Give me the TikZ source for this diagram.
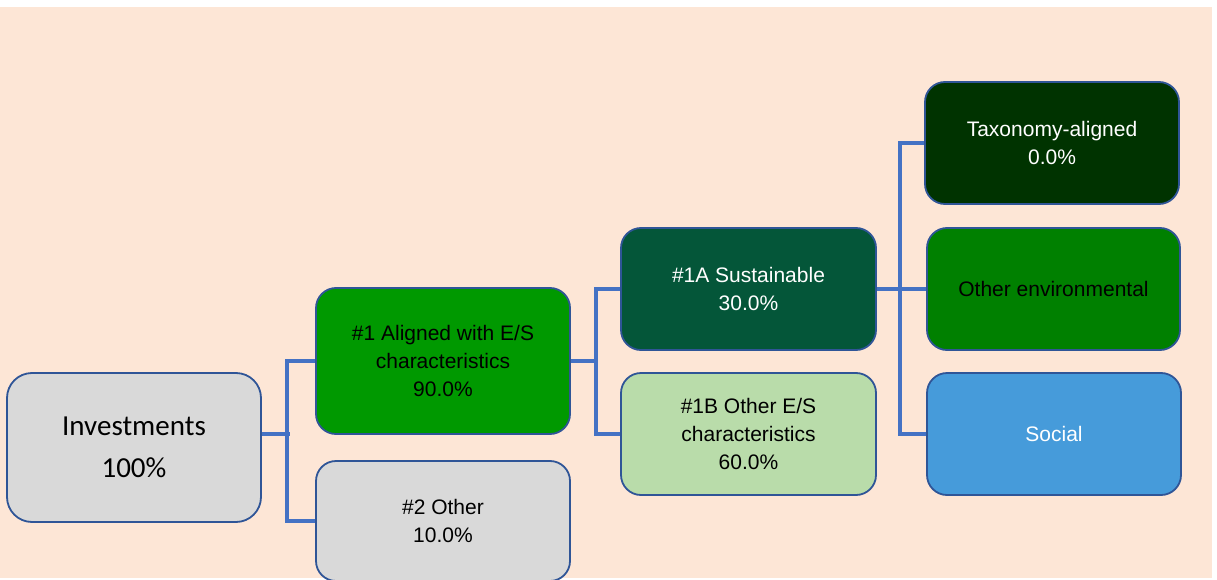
\documentclass[tikz,border=0pt]{standalone}
\usepackage{fontspec}
\setmainfont{Liberation Sans}
\newfontfamily\calibri{Carlito}
\usetikzlibrary{backgrounds}
\definecolor{peach}{HTML}{FDE6D6}
\definecolor{grayfill}{HTML}{D9D9D9}
\definecolor{greenA}{HTML}{009900}
\definecolor{greenS}{HTML}{045639}
\definecolor{greenL}{HTML}{B9DCAA}
\definecolor{greenT}{HTML}{003300}
\definecolor{greenE}{HTML}{008000}
\definecolor{socblue}{HTML}{469BDA}
\definecolor{bord}{HTML}{2F5597}
\definecolor{connc}{HTML}{4472C4}
\begin{document}
\begin{tikzpicture}[x=1pt,y=-1pt,
  box/.style={draw=bord, line width=1.8pt, rounded corners=20pt, align=center,
    inner sep=0pt, font=\fontsize{21}{28}\selectfont},
  conn/.style={draw=connc, line width=4.5pt}]
\useasboundingbox (0,0) rectangle (1217,580);
\path (134,447.5) node[box, fill=grayfill, minimum width=254pt, minimum height=149pt,
  rounded corners=25pt, font=\calibri\fontsize{29}{42}\selectfont] (inv) {Investments\\100\%};
\path (443,361) node[box, fill=greenA, minimum width=254pt, minimum height=146pt] (a1) {\#1 Aligned with E/S\\characteristics\\90.0\%};
\path (443,521) node[box, fill=grayfill, minimum width=254pt, minimum height=120pt] (o2) {\#2 Other\\10.0\%};
\path (748.5,289) node[box, fill=greenS, text=white, minimum width=255pt, minimum height=122pt] (s1a) {\#1A Sustainable\\30.0\%};
\path (748.5,434) node[box, fill=greenL, minimum width=255pt, minimum height=122pt] (s1b) {\#1B Other E/S\\characteristics\\60.0\%};
\path (1052,143) node[box, fill=greenT, text=white, minimum width=254pt, minimum height=122pt] (tax) {Taxonomy-aligned\\0.0\%};
\path (1053.5,289) node[box, fill=greenE, minimum width=253pt, minimum height=122pt] (oe) {Other environmental};
\path (1054,434) node[box, fill=socblue, text=white, minimum width=254pt, minimum height=122pt] (soc) {Social};
\begin{scope}[on background layer]
\fill[white] (0,0) rectangle (1217,580);
\fill[peach] (0,7) rectangle (1212,578);
\draw[conn] ([yshift=13.5pt]inv.east) -- ++(28,0);
\draw[conn] (a1.west) -- ++(-28,0) |- (o2.west);
\draw[conn] (a1.east) -- ++(27,0);
\draw[conn] (s1a.west) -- ++(-24,0) |- (s1b.west);
\draw[conn] (s1a.east) -- (oe.west);
\draw[conn] (tax.west) -- ++(-24,0) |- (soc.west);
\end{scope}
\end{tikzpicture}
\end{document}
